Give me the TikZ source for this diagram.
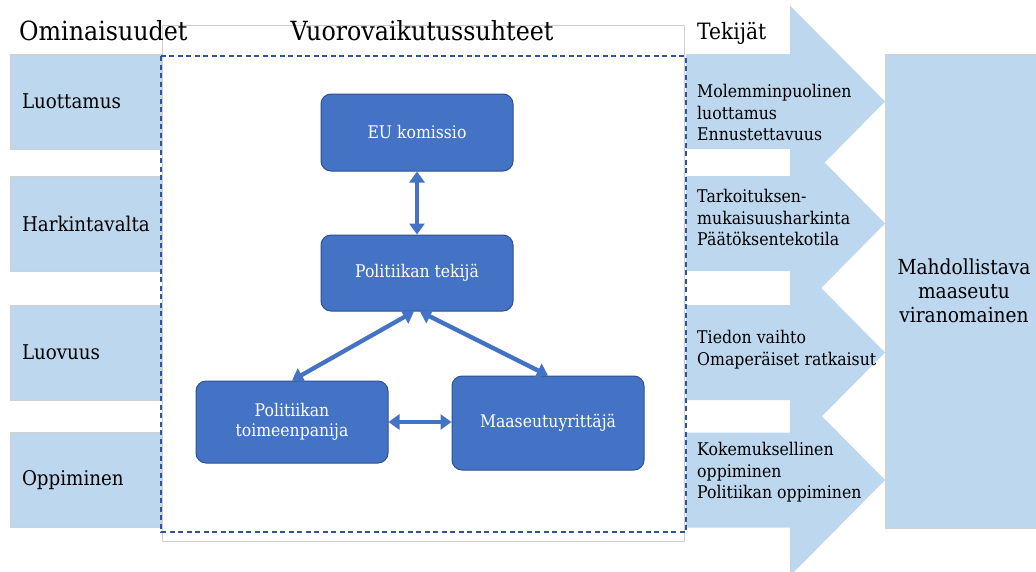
\documentclass[tikz,border=0pt]{standalone}
\usepackage{fontspec}
\setmainfont[FakeStretch=0.9]{DejaVu Serif}
\usetikzlibrary{arrows.meta}

\definecolor{paleblue}{HTML}{BDD7EE}
\definecolor{boxblue}{HTML}{4472C4}
\definecolor{boxedge}{HTML}{2F528F}
\definecolor{dashblue}{HTML}{2F5597}
\definecolor{framegray}{HTML}{D0D0D0}

\begin{document}
\begin{tikzpicture}[x=1pt,y=-1pt,
  header/.style={inner sep=0pt, text=black, font=\fontsize{26.4}{30}\selectfont},
  rowbox/.style={fill=paleblue, draw=framegray, line width=0.6pt,
    minimum height=95pt, text width=127pt, inner xsep=12pt, align=left,
    text=black, font=\fontsize{20.3}{24}\selectfont},
  factortext/.style={inner sep=0pt, anchor=north west, align=left,
    text=black, font=\fontsize{17.5}{21.5}\selectfont},
  actor/.style={rounded corners=10pt, fill=boxblue, draw=boxedge, line width=1pt,
    minimum width=192pt, text=white, align=center,
    font=\fontsize{17.4}{20}\selectfont},
  goalbox/.style={fill=paleblue, draw=framegray, line width=0.6pt,
    minimum width=158pt, minimum height=474pt, align=center,
    text=black, font=\fontsize{20.7}{24}\selectfont},
  link/.style={boxblue, line width=4.3pt,
    {Triangle[width=15pt,length=11pt]}-{Triangle[width=15pt,length=11pt]}},
  dashline/.style={dashblue, line width=1.2pt, dash pattern=on 5pt off 3.5pt}
]
\useasboundingbox (0,0) rectangle (1036,571);
\clip (0,0) rectangle (1036,571);

% frame of the centre panel
\draw[framegray, line width=0.8pt, fill=white] (162,25) rectangle (684,541);

% feature rows on the left
\node[rowbox] (luo) at (85.5,101.5) {Luottamus};
\node[rowbox] (har) at (85.5,223.5) {Harkintavalta};
\node[rowbox] (luov) at (85.5,352.5) {Luovuus};
\node[rowbox] (opp) at (85.5,480) {Oppiminen};

% four arrows carrying the factors to the right
\foreach \c in {101.5,223.5,352.5,480}{
  \fill[paleblue] (686,\c-47.5) -- (790,\c-47.5) -- (790,\c-96) -- (885,\c)
    -- (790,\c+96) -- (790,\c+47.5) -- (686,\c+47.5) -- cycle;
}

% dashed outline of the interaction panel
\draw[dashline] (161,56) rectangle (686,532);

% column headers
\node[header, anchor=base west] (h1) at (19,40) {Ominaisuudet};
\node[header, anchor=base] (h2) at (422,40) {Vuorovaikutussuhteet};
\node[header, anchor=base west, font=\fontsize{22.5}{26}\selectfont] (h3) at (697,39) {Tekijät};

% factor texts
\node[factortext] (f1) at (697,84) {Molemminpuolinen\\luottamus\\Ennustettavuus};
\node[factortext] (f2) at (697,189) {Tarkoituksen-\\mukaisuusharkinta\\Päätöksentekotila};
\node[factortext] (f3) at (697,330) {Tiedon vaihto\\Omaperäiset ratkaisut};
\node[factortext] (f4) at (697,442) {Kokemuksellinen\\oppiminen\\Politiikan oppiminen};

% outcome
\node[goalbox] (goal) at (964,291) {Mahdollistava\\maaseutu\\viranomainen};

% actors
\node[actor, minimum height=77pt] (eu) at (417,132.5) {EU komissio};
\node[actor, minimum height=76pt] (tek) at (417,273) {Politiikan tekijä};
\node[actor, minimum height=82pt] (toim) at (292,422) {Politiikan\\toimeenpanija};
\node[actor, minimum height=94pt] (maa) at (548,423) {Maaseutuyrittäjä};

% interactions
\draw[link] (eu.south) -- (tek.north);
\draw[link] ([xshift=-3pt]tek.south) -- (toim.north);
\draw[link] ([xshift=3pt]tek.south) -- (maa.north);
\draw[link] (toim.east) -- (toim.east -| maa.west);
\end{tikzpicture}
\end{document}
